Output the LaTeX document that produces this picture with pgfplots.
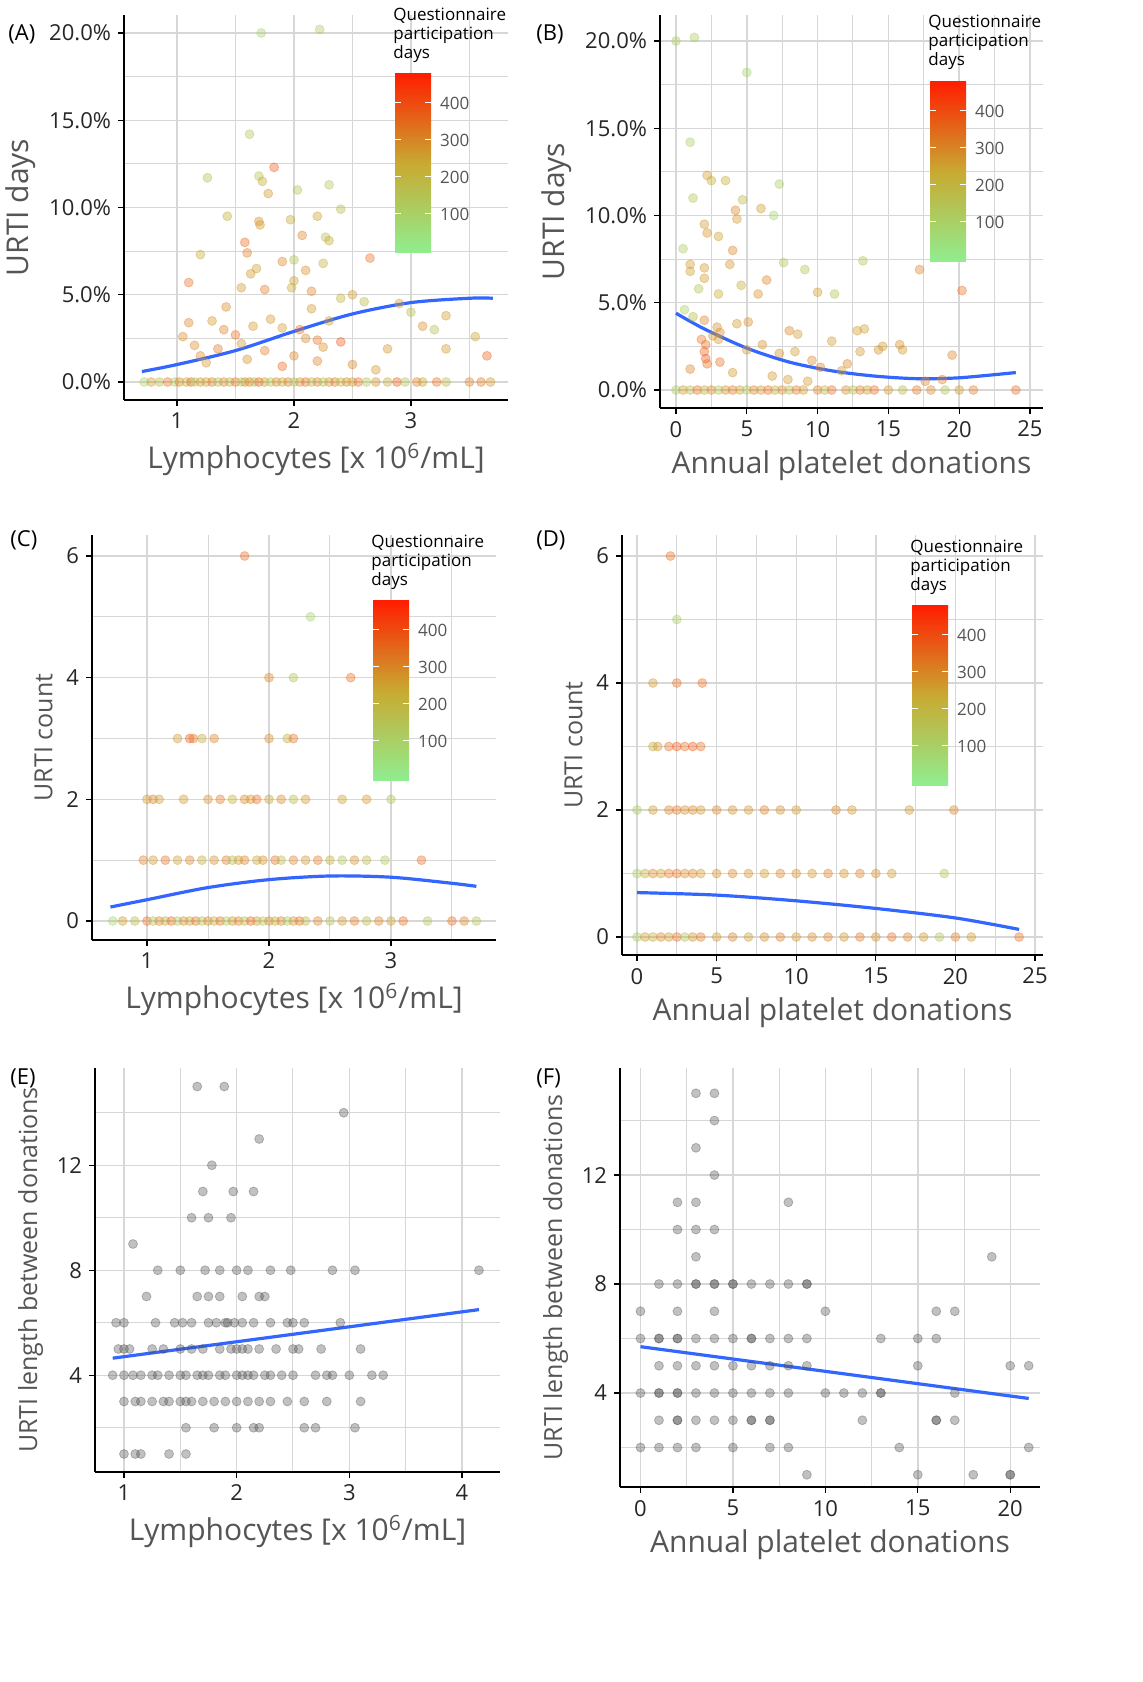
\documentclass[border=0pt]{standalone}
\usepackage{pgfplots}
\pgfplotsset{compat=1.18}
\usepackage{fontspec}
\setmainfont{Open Sans}
\definecolor{gridc}{RGB}{215,215,215}
\definecolor{labc}{RGB}{85,85,85}
\definecolor{cbl}{RGB}{144,238,144}
\definecolor{cbm}{RGB}{200,170,50}
\definecolor{cbh}{RGB}{255,30,0}
\definecolor{curve}{RGB}{51,102,255}
\pgfplotsset{
 panel/.style={scale only axis, anchor=south west, axis x line*=bottom, axis y line*=left,
   grid=both, major grid style={gridc, line width=0.7pt}, minor grid style={gridc, line width=0.5pt},
   tick align=outside, major tick length=3pt, minor tick length=0pt, tick style={black, line width=0.6pt},
   axis line style={black, line width=0.8pt},
   ticklabel style={font=\fontsize{11}{12}\selectfont, text=black!85},
   label style={font=\fontsize{15}{17}\selectfont, text=labc},
   /pgf/number format/assume math mode=true,
   colormap={qp}{rgb255=(144,238,144) rgb255=(200,170,50) rgb255=(240,110,40) rgb255=(255,30,0)},
   point meta min=0, point meta max=480, clip=false},
 pts/.style={scatter, only marks, scatter src=explicit, mark=*, mark size=2.25pt,
   scatter/use mapped color={draw=mapped color, fill=mapped color}, fill opacity=0.4, draw opacity=0.4},
 gpts/.style={only marks, mark=*, mark size=2.25pt, mark options={fill=black!70, draw=black!70, fill opacity=0.35, draw opacity=0.35}},
 fit/.style={curve, line width=1.6pt, smooth, no marks}
}
\newcommand{\cbar}[5]{% x, ytop, ybottom, title y, tick y for 100 (pt)
 \shade[top color=cbh, bottom color=cbl, middle color=cbm] (#1pt,#2pt) rectangle ++(18pt,#3pt-#2pt);
 \foreach \k/\v in {0/100,1/200,2/300,3/400}{
   \draw[white, line width=0.5pt] (#1pt,#5pt+18.5pt*\k) -- ++(3pt,0); \draw[white, line width=0.5pt] (#1pt+15pt,#5pt+18.5pt*\k) -- ++(3pt,0);
   \node[anchor=west, font=\fontsize{8.5}{10}\selectfont, text=labc] at (#1pt+19pt,#5pt+18.5pt*\k) {\v};}
 \node[anchor=north west, align=left, font=\fontsize{8.5}{9.5}\selectfont, inner sep=0pt] at (#1pt-1pt,#4pt) {Questionnaire\\participation\\days};
}
\begin{document}
\begin{tikzpicture}
\useasboundingbox (0,0) rectangle (571.5pt,841pt);
% ---------------- A
\begin{axis}[panel, at={(62pt,641pt)}, width=192pt, height=192.5pt,
 xmin=0.547, xmax=3.83, ymin=-1.03, ymax=21.03,
 xtick={1,2,3}, minor xtick={0.5,1.5,2.5,3.5}, ytick={0,5,10,15,20}, minor ytick={2.5,7.5,12.5,17.5},
 yticklabels={0.0\%,5.0\%,10.0\%,15.0\%,20.0\%},
 xlabel={Lymphocytes [x 10\textsuperscript{6}/mL]}, ylabel={URTI days}]
\addplot[pts] table[meta=m]{
x y m
0.72 0 60
0.78 0 200
0.85 0 120
0.92 0 300
0.98 0 90
1.02 0 250
1.08 0 150
1.12 0 320
1.15 0 80
1.2 0 220
1.25 0 180
1.3 0 280
1.35 0 100
1.4 0 240
1.45 0 140
1.5 0 300
1.55 0 70
1.58 0 200
1.62 0 260
1.66 0 110
1.7 0 330
1.75 0 190
1.8 0 90
1.85 0 230
1.9 0 150
1.95 0 270
2.0 0 80
2.05 0 210
2.1 0 300
2.15 0 130
2.2 0 250
2.25 0 100
2.3 0 200
2.35 0 280
2.4 0 120
2.45 0 240
2.5 0 170
2.55 0 310
2.62 0 90
2.7 0 220
2.8 0 150
2.88 0 350
2.95 0 100
3.05 0 260
3.1 0 180
3.22 0 300
3.3 0 120
3.5 0 250
3.6 0 280
3.68 0 200
1.72 20.0 60
2.22 20.2 80
1.62 14.2 90
1.26 11.7 110
1.7 11.8 100
1.73 11.5 150
1.83 12.3 340
1.78 10.8 200
2.03 11.0 100
2.3 11.3 90
1.43 9.5 150
1.7 9.2 220
1.71 9.0 200
1.97 9.3 160
2.07 8.4 260
2.2 9.5 180
2.27 8.3 110
2.4 9.9 120
2.3 8.1 150
1.58 8.0 320
1.6 7.4 270
1.2 7.3 150
2.0 7.0 100
2.25 6.8 140
2.1 6.4 230
1.68 6.5 180
1.9 6.9 250
2.65 7.1 300
1.63 6.2 210
2.0 5.8 180
1.1 5.7 290
1.55 5.4 200
1.75 5.3 280
1.98 5.4 160
2.15 5.2 250
2.5 5.0 200
2.6 4.6 120
2.4 4.8 140
2.9 4.5 180
3.3 3.8 200
3.0 4.0 110
1.3 3.5 200
1.1 3.4 250
1.4 3.0 260
1.5 2.7 300
1.65 3.2 200
1.8 3.6 200
1.9 3.1 190
2.05 3.0 300
2.3 3.5 200
2.1 2.5 240
2.2 2.4 300
2.25 2.0 220
2.4 2.3 350
1.55 2.2 200
1.35 1.9 280
1.15 2.1 230
1.05 2.6 230
1.75 1.8 260
2.0 1.5 240
2.2 1.2 270
2.8 1.9 210
3.2 3.0 110
3.1 3.2 230
3.3 1.9 200
3.65 1.5 330
2.7 0.7 200
1.25 1.1 200
1.6 1.3 220
1.9 0.9 320
2.5 1.0 250
3.55 2.6 170
1.2 1.5 230
1.42 4.3 240
2.15 4.2 200
};
\addplot[fit] coordinates {(0.7,0.6)(1,1.0)(1.5,1.8)(2,2.9)(2.5,3.9)(3,4.55)(3.5,4.8)(3.7,4.8)};
\end{axis}
\cbar{197.5}{804}{714.5}{837}{734}
% ---------------- B
\begin{axis}[panel, at={(330pt,637pt)}, width=191.5pt, height=196.5pt,
 xmin=-1.13, xmax=25.92, ymin=-1.03, ymax=21.49,
 xtick={0,5,10,15,20,25}, minor xtick={2.5,7.5,12.5,17.5,22.5}, ytick={0,5,10,15,20}, minor ytick={2.5,7.5,12.5,17.5},
 yticklabels={0.0\%,5.0\%,10.0\%,15.0\%,20.0\%},
 xlabel={Annual platelet donations}, ylabel={URTI days}]
\addplot[pts] table[meta=m]{
x y m
0 0 80
0.5 0 200
1 0 120
1.5 0 300
2 0 150
2.5 0 250
3 0 100
3.5 0 220
4 0 280
4.5 0 180
5 0 90
5.5 0 260
6 0 200
6.5 0 300
7 0 150
7.5 0 240
8 0 110
8.5 0 280
9 0 200
10 0 250
10.5 0 130
11 0 300
12 0 220
12.5 0 100
13 0 260
13.5 0 180
14 0 300
15 0 200
16 0 120
17 0 280
18 0 240
19 0 100
20 0 200
21 0 260
24 0 300
0 20.0 80
1.3 20.2 80
5 18.2 60
1 14.2 80
2.2 12.3 200
2.5 12.0 150
1.2 11.0 100
4.7 10.9 130
6 10.4 200
7.3 11.8 80
6.9 10.0 60
3.5 12.0 150
4.2 10.3 250
4.3 9.8 200
2 9.5 200
2.2 9.0 220
0.5 8.1 80
1 7.2 200
1 6.8 180
2 7.0 200
3 8.8 170
4 8.0 250
3.8 7.2 220
7.6 7.3 100
9.1 6.9 100
4.6 6.0 150
2 6.4 200
6.4 6.3 250
1.6 5.8 100
3 5.5 150
5.8 5.5 220
10 5.6 200
11.2 5.5 100
13.2 7.4 100
17.2 6.9 250
20.2 5.7 300
0.6 4.6 70
1.2 4.2 120
2 4.0 250
2.9 3.6 230
3.1 3.3 240
4.3 3.8 200
5.1 3.9 230
8 3.4 250
8.6 3.2 200
12.8 3.4 200
13.3 3.5 180
15.8 2.6 230
14.6 2.5 200
19.5 2.0 250
11 2.8 200
1.8 2.9 300
2.1 2.6 300
2.0 2.2 330
2.1 1.8 350
2.2 1.5 300
2.6 3.1 200
3.0 2.9 200
5.0 2.3 200
6.1 2.6 220
7.3 2.1 230
8.4 2.2 200
9.6 1.7 230
10.2 1.3 250
12.1 1.5 250
13.0 2.2 200
14.3 2.3 220
16.0 2.3 200
11.7 1.1 200
3.1 1.6 300
1.0 1.2 250
4.0 1.0 200
6.8 0.8 200
7.9 0.6 200
9.3 0.5 200
17.6 0.5 250
18.8 0.6 250
};
\addplot[fit] coordinates {(0,4.4)(2,3.5)(5,2.4)(8,1.6)(11,1.1)(14,0.8)(17,0.65)(20,0.7)(24,1.0)};
\end{axis}
\cbar{465}{800}{710}{833.5}{730}
% ---------------- C
\begin{axis}[panel, at={(46pt,371pt)}, width=202pt, height=202.5pt,
 xmin=0.549, xmax=3.861, ymin=-0.312, ymax=6.345,
 xtick={1,2,3}, minor xtick={0.5,1.5,2.5,3.5}, ytick={0,2,4,6}, minor ytick={1,3,5},
 xlabel={Lymphocytes [x 10\textsuperscript{6}/mL]}, ylabel={URTI count},
 ylabel style={font=\fontsize{12.5}{14}\selectfont}]
\addplot[pts] table[meta=m]{
x y m
0.72 0 60
0.8 0 200
0.9 0 120
1.0 0 300
1.05 0 90
1.1 0 250
1.15 0 150
1.2 0 320
1.25 0 80
1.3 0 220
1.35 0 180
1.4 0 280
1.45 0 100
1.5 0 240
1.55 0 140
1.6 0 300
1.65 0 70
1.7 0 200
1.75 0 260
1.8 0 110
1.85 0 330
1.9 0 190
1.95 0 90
2.0 0 230
2.05 0 150
2.1 0 270
2.15 0 80
2.2 0 210
2.25 0 300
2.3 0 130
2.4 0 250
2.5 0 100
2.6 0 200
2.7 0 280
2.8 0 120
2.9 0 240
3.0 0 170
3.1 0 310
3.3 0 90
3.5 0 300
3.6 0 250
3.7 0 100
0.97 1 250
1.05 1 200
1.15 1 300
1.25 1 180
1.35 1 250
1.45 1 150
1.55 1 220
1.65 1 280
1.7 1 100
1.75 1 200
1.8 1 250
1.9 1 170
1.95 1 230
2.05 1 300
2.1 1 120
2.2 1 250
2.3 1 200
2.4 1 280
2.5 1 150
2.6 1 100
2.7 1 220
2.8 1 130
2.95 1 90
3.25 1 300
1.0 2 200
1.05 2 250
1.1 2 180
1.3 2 200
1.5 2 220
1.6 2 280
1.7 2 150
1.8 2 250
1.85 2 200
1.9 2 300
2.0 2 180
2.1 2 240
2.2 2 120
2.3 2 200
2.6 2 180
2.8 2 200
3.0 2 100
1.25 3 200
1.35 3 350
1.38 3 300
1.45 3 150
1.55 3 250
2.0 3 230
2.15 3 150
2.2 3 300
2.0 4 250
2.2 4 100
2.67 4 300
2.34 5 60
1.8 6 300
};
\addplot[fit] coordinates {(0.7,0.23)(1,0.35)(1.5,0.55)(2,0.68)(2.5,0.74)(3,0.72)(3.5,0.62)(3.7,0.57)};
\end{axis}
\cbar{186.5}{540.5}{450.5}{573.5}{470.5}
% ---------------- D
\begin{axis}[panel, at={(311pt,363.5pt)}, width=210.5pt, height=210pt,
 xmin=-0.942, xmax=25.5, ymin=-0.283, ymax=6.331,
 xtick={0,5,10,15,20,25}, minor xtick={2.5,7.5,12.5,17.5,22.5}, ytick={0,2,4,6}, minor ytick={1,3,5},
 xlabel={Annual platelet donations}, ylabel={URTI count},
 ylabel style={font=\fontsize{12.5}{14}\selectfont}]
\addplot[pts] table[meta=m]{
x y m
0 0 80
0.5 0 200
1 0 150
1.5 0 250
2 0 200
2.5 0 300
3 0 100
3.5 0 220
4 0 280
5 0 200
6 0 250
7 0 180
8 0 220
9 0 260
10 0 200
11 0 230
12 0 250
13 0 200
14 0 280
15 0 220
16 0 300
17 0 250
18 0 200
19 0 100
20 0 260
21 0 200
24 0 300
0 1 80
0.5 1 150
1 1 250
1.5 1 200
2 1 280
2.5 1 300
3 1 220
3.5 1 250
4 1 200
5 1 230
6 1 250
7 1 220
8 1 200
9 1 250
10 1 230
11 1 200
12 1 260
13 1 220
14 1 250
15 1 230
16 1 200
19.3 1 100
0 2 80
1 2 200
2 2 250
2.5 2 280
3 2 220
3.5 2 250
4 2 200
5 2 250
6 2 230
7 2 200
8 2 260
9 2 220
10 2 200
12.5 2 250
13.5 2 200
17.1 2 200
19.9 2 250
1 3 150
1.3 3 200
2 3 300
2.5 3 350
3 3 300
3.5 3 350
4 3 300
1 4 200
2.5 4 300
4.1 4 300
2.5 5 80
2.1 6 300
};
\addplot[fit] coordinates {(0,0.7)(5,0.66)(10,0.57)(15,0.45)(20,0.3)(24,0.12)};
\end{axis}
\cbar{456}{538}{448}{571}{468}
% ---------------- E
\begin{axis}[panel, at={(47.5pt,105pt)}, width=202.5pt, height=202pt,
 xmin=0.743, xmax=4.337, ymin=0.314, ymax=15.705,
 xtick={1,2,3,4}, minor xtick={1.5,2.5,3.5}, ytick={4,8,12}, minor ytick={2,6,10,14},
 xlabel={Lymphocytes [x 10\textsuperscript{6}/mL]}, ylabel={URTI length between donations},
 ylabel style={font=\fontsize{12.5}{14}\selectfont}]
\addplot[gpts] table{
1.65 15
1.89 15
2.95 14
2.2 13
1.78 12
1.7 11
1.97 11
2.15 11
1.6 10
1.75 10
1.95 10
1.08 9
1.3 8
1.5 8
1.72 8
1.85 8
2.0 8
2.1 8
2.3 8
2.48 8
2.85 8
3.05 8
4.15 8
1.2 7
1.65 7
1.75 7
1.85 7
2.05 7
2.2 7
2.25 7
0.93 6
1.0 6
1.28 6
1.45 6
1.52 6
1.6 6
1.75 6
1.82 6
1.9 6
1.92 6
1.98 6
2.05 6
2.15 6
2.3 6
2.45 6
2.5 6
2.6 6
2.92 6
0.95 5
1.0 5
1.05 5
1.25 5
1.35 5
1.5 5
1.6 5
1.7 5
1.85 5
1.95 5
2.0 5
2.05 5
2.1 5
2.2 5
2.35 5
2.5 5
2.55 5
2.75 5
3.1 5
0.9 4
1.0 4
1.08 4
1.15 4
1.25 4
1.3 4
1.4 4
1.5 4
1.55 4
1.65 4
1.7 4
1.75 4
1.85 4
1.9 4
2.0 4
2.05 4
2.1 4
2.15 4
2.25 4
2.3 4
2.4 4
2.5 4
2.7 4
2.8 4
2.85 4
3.0 4
3.2 4
3.3 4
1.0 3
1.1 3
1.15 3
1.25 3
1.35 3
1.4 3
1.5 3
1.55 3
1.6 3
1.7 3
1.8 3
1.9 3
2.0 3
2.1 3
2.2 3
2.3 3
2.45 3
2.6 3
2.8 3
3.1 3
1.55 2
1.8 2
2.0 2
2.15 2
2.2 2
2.6 2
2.7 2
3.05 2
1.0 1
1.1 1
1.15 1
1.4 1
1.55 1
};
\addplot[fit] coordinates {(0.9,4.65)(4.15,6.5)};
\end{axis}
% ---------------- F
\begin{axis}[panel, at={(310pt,97.5pt)}, width=210pt, height=209.5pt,
 xmin=-1.108, xmax=21.61, ymin=0.55, ymax=15.93,
 xtick={0,5,10,15,20}, minor xtick={2.5,7.5,12.5,17.5}, ytick={4,8,12}, minor ytick={2,6,10,14},
 xlabel={Annual platelet donations}, ylabel={URTI length between donations},
 ylabel style={font=\fontsize{12.5}{14}\selectfont}]
\addplot[gpts] table{
3 15
4 15
4 14
3 13
4 12
2 11
3 11
8 11
2 10
3 10
4 10
3 9
19 9
1 8
2 8
3 8
3 8
4 8
4 8
5 8
5 8
6 8
7 8
8 8
9 8
9 8
0 7
2 7
4 7
10 7
16 7
17 7
0 6
1 6
1 6
2 6
2 6
3 6
4 6
5 6
6 6
6 6
7 6
8 6
9 6
13 6
15 6
16 6
1 5
2 5
3 5
4 5
5 5
6 5
7 5
8 5
9 5
15 5
20 5
21 5
0 4
1 4
1 4
2 4
2 4
3 4
4 4
5 4
6 4
7 4
8 4
10 4
11 4
12 4
13 4
13 4
17 4
1 3
2 3
2 3
3 3
4 3
5 3
6 3
6 3
7 3
7 3
12 3
16 3
16 3
17 3
0 2
1 2
2 2
3 2
5 2
7 2
8 2
14 2
21 2
9 1
15 1
18 1
20 1
20 1
};
\addplot[fit] coordinates {(0,5.7)(21,3.8)};
\end{axis}
% panel tags
\foreach \t/\px/\py in {(A)/4/824,(B)/268/824,(C)/5/571,(D)/268/571,(E)/5/302,(F)/268/302}
 \node[anchor=west, font=\fontsize{11}{13}\selectfont, inner sep=0pt] at (\px pt,\py pt) {\t};
\end{tikzpicture}
\end{document}
